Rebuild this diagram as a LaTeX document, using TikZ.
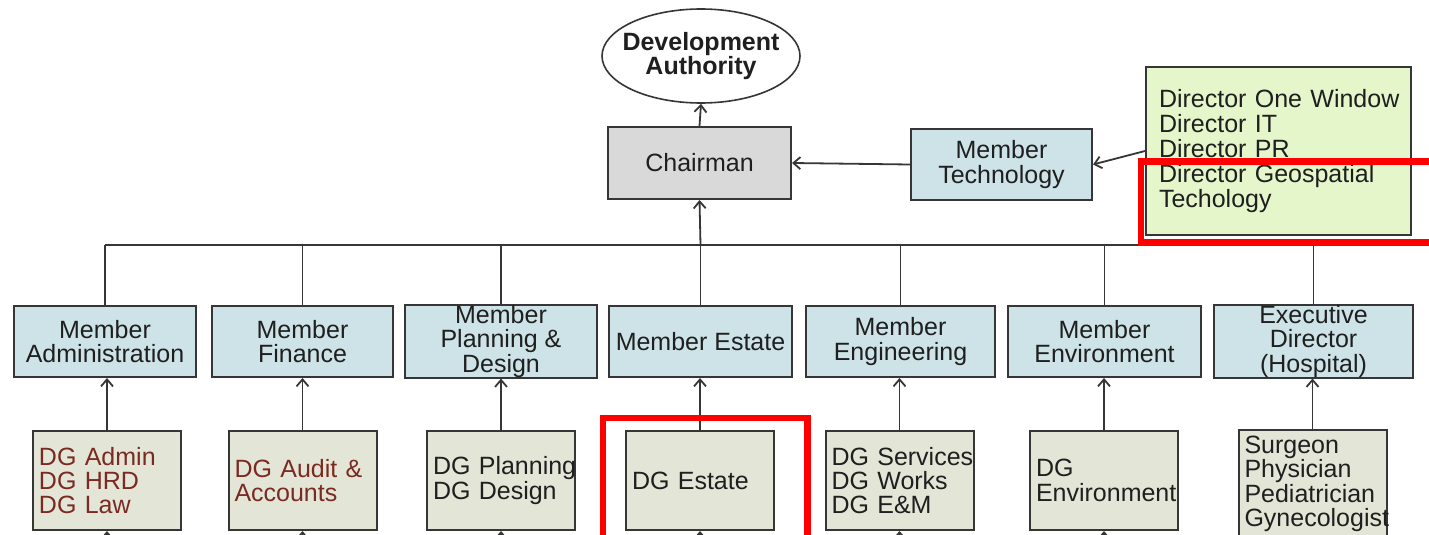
\documentclass[tikz,border=0pt]{standalone}
\usepackage{fontspec}
\setmainfont{Liberation Sans}
\usetikzlibrary{shapes.geometric, arrows.meta}

\definecolor{memberblue}{HTML}{CDE3E7}
\definecolor{dggrey}{HTML}{E3E6D6}
\definecolor{chairgrey}{HTML}{D9D9D9}
\definecolor{dirgreen}{HTML}{E4F6CA}
\definecolor{dgred}{HTML}{7A2A22}
\definecolor{edge}{HTML}{363636}

% keep the box texts unbroken
\hyphenpenalty=10000
\exhyphenpenalty=10000

\begin{document}
\begin{tikzpicture}[x = .5pt, y = -.5pt, >={Straight Barb[length = 3.5pt, width = 6pt]},
    every node/.style = {font = \fontsize{12.5}{12.2}\selectfont, text = black!88},
    box/.style = {draw = edge, line width = 1pt, inner sep = 0pt, minimum height = 35.5pt, align = center},
    member/.style = {box, fill = memberblue},
    dg/.style = {draw = edge, line width = 1pt, fill = dggrey, inner xsep = 3pt, inner ysep = 0pt,
                 minimum height = 49.5pt, text width = 68pt, align = left},
    link/.style = {draw = edge, line width = .9pt},
    redmark/.style = {draw = red, line width = 3.2pt}]
    \useasboundingbox (0, 0) rectangle (1429, 535);

    % top of the chart
    \node (auth) at (701, 56) [draw = edge, ellipse, fill = white, line width = .8pt,
        inner xsep = -4.3pt, inner ysep = 0pt,
        minimum width = 99pt, minimum height = 47pt, align = center,
        font = \fontsize{12.5}{12.2}\selectfont\bfseries] {Development\\Authority};
    \node (chair) at (699.5, 163) [box, fill = chairgrey, minimum width = 91.5pt, minimum height = 36pt] {Chairman};
    \node (mtech) at (1001.5, 164.5) [member, minimum width = 90.5pt] {Member\\Technology};
    \node (dirs) at (1278.5, 151) [draw = edge, line width = 1pt, fill = dirgreen, inner xsep = 6.5pt,
        minimum height = 83.5pt, text width = 119.5pt, align = left,
        font = \fontsize{12.5}{12.4}\selectfont]
        {Director~One~Window\\Director~IT\\Director~PR\\Director~Geospatial\\Techology};

    % members
    \node (madmin) at (105, 341.5) [member, minimum width = 91pt] {Member\\Administration};
    \node (mfin) at (302.5, 341.5) [member, minimum width = 90.5pt] {Member\\Finance};
    \node (mplan) at (501, 341.5) [member, minimum width = 96pt] {Member\\Planning \&\\Design};
    \node (mest) at (700.5, 341.5) [member, minimum width = 91.5pt] {Member Estate};
    \node (meng) at (900.5, 341.5) [member, minimum width = 94.5pt] {Member\\Engineering};
    \node (menv) at (1104.5, 341.5) [member, minimum width = 96.5pt] {Member\\Environment};
    \node (mexec) at (1313.5, 341.5) [member, minimum width = 99.5pt] {Executive\\Director\\(Hospital)};

    % directors general
    \node (dgadmin) at (107, 480.5) [dg, text = dgred] {DG~Admin\\DG~HRD\\DG~Law};
    \node (dgaudit) at (302.5, 480.5) [dg, text = dgred] {DG~Audit~\&\\Accounts};
    \node (dgplan) at (501, 480.5) [dg] {DG~Planning\\DG~Design};
    \node (dgest) at (700, 480.5) [dg] {DG~Estate};
    \node (dgserv) at (899.5, 480.5) [dg] {DG~Services\\DG~Works\\DG~E\&M};
    \node (dgenv) at (1104, 480.5) [dg] {DG\\Environment};
    \node (dgmed) at (1312.5, 429) [dg, anchor = north, minimum height = 0pt, inner ysep = 3pt]
        {Surgeon\\Physician\\Pediatrician\\Gynecologist};

    \coordinate (bus) at (0, 245);
    \coordinate (below) at (0, 560);

    % links up to the chairman
    \draw [link] (madmin.north |- bus) -- (mexec.north |- bus);
    \draw [link, ->] (chair.north) -- (auth.south);
    \draw [link, ->] (mest.north |- bus) -- (chair.south);
    \draw [link, ->] (mtech.west) -- (chair.east);
    \draw [link, ->] (dirs.west) -- (mtech.east);
    \draw [link] (madmin.north |- bus) -- (madmin.north);
    \draw [link] (mfin.north |- bus) -- (mfin.north);
    \draw [link] (mplan.north |- bus) -- (mplan.north);
    \draw [link] (mest.north |- bus) -- (mest.north);
    \draw [link] (meng.north |- bus) -- (meng.north);
    \draw [link] (menv.north |- bus) -- (menv.north);
    \draw [link] (mexec.north |- bus) -- (mexec.north);

    % DG boxes up to their member
    \draw [link, ->] (dgadmin.north) -- (dgadmin.north |- madmin.south);
    \draw [link, ->] (dgaudit.north) -- (dgaudit.north |- mfin.south);
    \draw [link, ->] (dgplan.north) -- (dgplan.north |- mplan.south);
    \draw [link, ->] (dgest.north) -- (dgest.north |- mest.south);
    \draw [link, ->] (dgserv.north) -- (dgserv.north |- meng.south);
    \draw [link, ->] (dgenv.north) -- (dgenv.north |- menv.south);
    \draw [link, ->] (dgmed.north) -- (dgmed.north |- mexec.south);

    % from the level below
    \draw [link, ->] (dgadmin.south |- below) -- (dgadmin.south);
    \draw [link, ->] (dgaudit.south |- below) -- (dgaudit.south);
    \draw [link, ->] (dgplan.south |- below) -- (dgplan.south);
    \draw [link, ->] (dgest.south |- below) -- (dgest.south);
    \draw [link, ->] (dgserv.south |- below) -- (dgserv.south);
    \draw [link, ->] (dgenv.south |- below) -- (dgenv.south);

    % highlights
    \draw [redmark] (1141, 161.5) rectangle (1470, 242.5);
    \draw [redmark] (603, 418) rectangle (807.5, 580);
\end{tikzpicture}
\end{document}
